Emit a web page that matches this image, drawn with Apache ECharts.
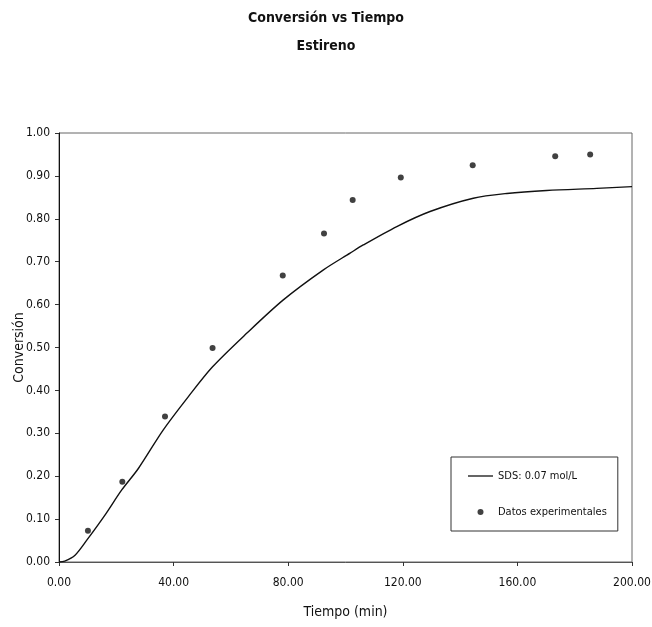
<!DOCTYPE html>
<html>
<head>
<meta charset="utf-8">
<script src="https://cdn.jsdelivr.net/npm/echarts@6/dist/echarts.min.js"></script>
<style>
html,body{margin:0;padding:0;background:#fff;}
#c{width:652px;height:627px;}
</style>
</head>
<body>
<div id="c"></div>
<script>
// Experimental data
const expTime = [10.1, 22.1, 37.0, 53.6, 78.1, 92.5, 102.5, 119.3, 144.4, 173.2, 185.4];
const expConv = [0.073, 0.187, 0.339, 0.499, 0.668, 0.766, 0.844, 0.896, 0.925, 0.946, 0.950];
// Model curve (SDS 0.07 mol/L)
const modelTime = [0, 2, 5.6, 9.7, 16.1, 21.9, 27.7, 36.4, 45.1, 53.6, 65.5, 78.3, 92.3, 101.6, 106.2, 117.9, 129.5, 144.6, 156.3, 170.2, 187.7, 200];
const modelConv = [0, 0.002, 0.016, 0.051, 0.110, 0.168, 0.218, 0.308, 0.385, 0.455, 0.533, 0.611, 0.681, 0.720, 0.739, 0.782, 0.817, 0.848, 0.859, 0.866, 0.871, 0.875];
// Axis
const xTicks = [0, 40, 80, 120, 160, 200];
const yTicks = [0, 0.1, 0.2, 0.3, 0.4, 0.5, 0.6, 0.7, 0.8, 0.9, 1.0];

const FONT = '"DejaVu Sans Condensed", "Liberation Sans Narrow", sans-serif';
const chart = echarts.init(document.getElementById('c'), null, {renderer: 'canvas'});
chart.setOption({
  backgroundColor: '#fff',
  animation: false,
  title: {
    text: 'Conversión vs Tiempo\nEstireno',
    left: 'center',
    top: -1,
    textStyle: {fontFamily: FONT, fontSize: 14, fontWeight: 'bold', color: '#111', lineHeight: 28}
  },
  grid: {left: 59, right: 20, top: 133, bottom: 65, show: true, borderColor: '#666', borderWidth: 1,
         backgroundColor: 'transparent', containLabel: false, outerBoundsMode: 'none'},
  xAxis: {
    type: 'value', min: 0, max: 200, interval: 40,
    name: 'Tiempo (min)', nameLocation: 'middle', nameGap: 43,
    nameTextStyle: {fontFamily: FONT, fontSize: 14, color: '#111'},
    axisLine: {lineStyle: {color: '#555', width: 1}},
    axisTick: {show: true, length: 4, lineStyle: {color: '#333'}},
    axisLabel: {fontFamily: FONT, fontSize: 12, color: '#111', margin: 15, formatter: v => v.toFixed(2)},
    splitLine: {show: false}
  },
  yAxis: {
    type: 'value', min: 0, max: 1, interval: 0.1,
    name: 'Conversión', nameLocation: 'middle', nameGap: 33, nameRotate: 90, nameMoveOverlap: false,
    nameTextStyle: {fontFamily: FONT, fontSize: 14, color: '#111'},
    axisLine: {show: true, lineStyle: {color: '#111', width: 1}},
    axisTick: {show: true, length: 4, lineStyle: {color: '#333'}},
    axisLabel: {fontFamily: FONT, fontSize: 12, color: '#111', margin: 9, formatter: v => v.toFixed(2)},
    splitLine: {show: false}
  },
  legend: {
    orient: 'vertical',
    left: 451, top: 457,
    backgroundColor: '#fff',
    borderColor: '#333', borderWidth: 1, borderRadius: 0,
    padding: [12, 11, 12, 17],
    itemGap: 22,
    itemWidth: 25, itemHeight: 6,
    symbolKeepAspect: true,
    textStyle: {fontFamily: FONT, fontSize: 11, color: '#111', lineHeight: 14},
    data: [
      {name: 'SDS: 0.07 mol/L', icon: 'path://M0,0H25V1.3H0Z', itemStyle: {color: '#111'}},
      {name: 'Datos experimentales', icon: 'circle', itemStyle: {color: '#111'}}
    ]
  },
  series: [
    {
      name: 'SDS: 0.07 mol/L',
      type: 'line',
      data: modelTime.map((t, i) => [t, modelConv[i]]),
      smooth: 0.3,
      symbol: 'none',
      lineStyle: {color: '#111', width: 1.4},
      itemStyle: {color: '#111'}
    },
    {
      name: 'Datos experimentales',
      type: 'scatter',
      data: expTime.map((t, i) => [t, expConv[i]]),
      symbol: 'circle',
      symbolSize: 6,
      itemStyle: {color: '#111'}
    }
  ]
});
</script>
</body>
</html>
